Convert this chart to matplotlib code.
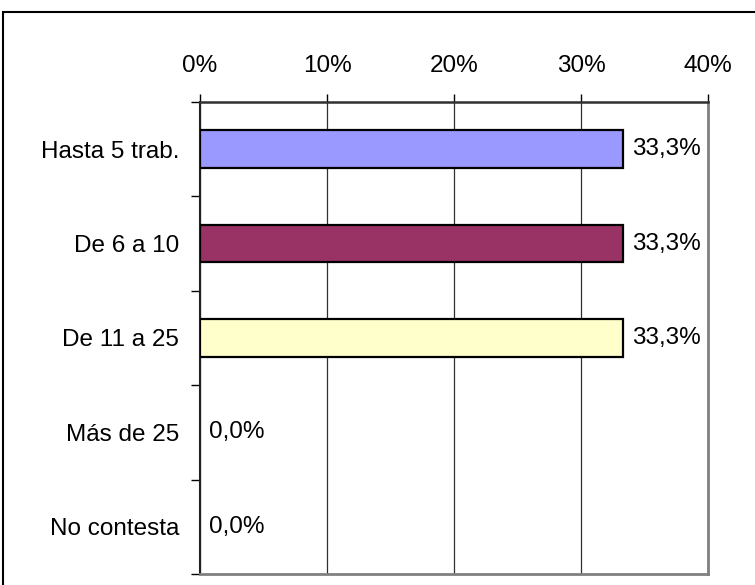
import numpy as np
import matplotlib.pyplot as plt
from matplotlib.patches import Rectangle

plt.rcParams['font.family'] = ['Liberation Sans', 'DejaVu Sans']

# Data
categories = ['Hasta 5 trab.', 'De 6 a 10', 'De 11 a 25', 'Más de 25', 'No contesta']
values = [33.3, 33.3, 33.3, 0.0, 0.0]
colors = ['#9999FF', '#993366', '#FFFFCC', '#FFFFFF', '#FFFFFF']
xticks = [0, 10, 20, 30, 40]

fs = 17.5

fig = plt.figure(figsize=(7.55, 5.85), dpi=100)
ax = fig.add_axes([200/755, 1 - 574/585, 508/755, 472/585])

# outer chart border
fig.patches.append(Rectangle((3/755, -0.1), 1.2, 1 - 12/585 + 0.1,
                             transform=fig.transFigure, fill=False,
                             edgecolor='black', linewidth=1.5))

y = np.arange(len(categories))
for i, (v, c) in enumerate(zip(values, colors)):
    if v > 0:
        ax.barh(y[i], v, height=0.4, color=c, edgecolor='black', linewidth=1.6, zorder=3)
    ax.annotate(f'{v:.1f}%'.replace('.', ','), (v, y[i]), xytext=(6.5, 0),
                textcoords='offset points', va='center', ha='left', fontsize=fs)

ax.set_xlim(0, 40)
ax.set_ylim(len(categories) - 0.5, -0.5)

# x axis on top
ax.xaxis.tick_top()
ax.set_xticks(xticks)
ax.set_xticklabels([f'{t}%' for t in xticks], fontsize=fs)
ax.tick_params(axis='x', direction='out', length=6, width=1, pad=12, colors='black')
ax.grid(axis='x', color='#303030', linewidth=0.9, zorder=0)

# y categories, ticks at boundaries
ax.set_yticks(y)
ax.set_yticklabels(categories, fontsize=fs)
ax.set_yticks(np.arange(-0.5, len(categories)), minor=True)
ax.tick_params(axis='y', which='major', length=0, pad=15)
ax.tick_params(axis='y', which='minor', length=6.5, width=1, direction='out')

ax.spines['left'].set_color('#202020')
ax.spines['left'].set_linewidth(1.5)
ax.spines['top'].set_color('#303030')
ax.spines['top'].set_linewidth(1.8)
ax.spines['right'].set_color('#808080')
ax.spines['right'].set_linewidth(2)
ax.spines['bottom'].set_color('#808080')
ax.spines['bottom'].set_linewidth(2)

fig.savefig('out.png', dpi=100)
